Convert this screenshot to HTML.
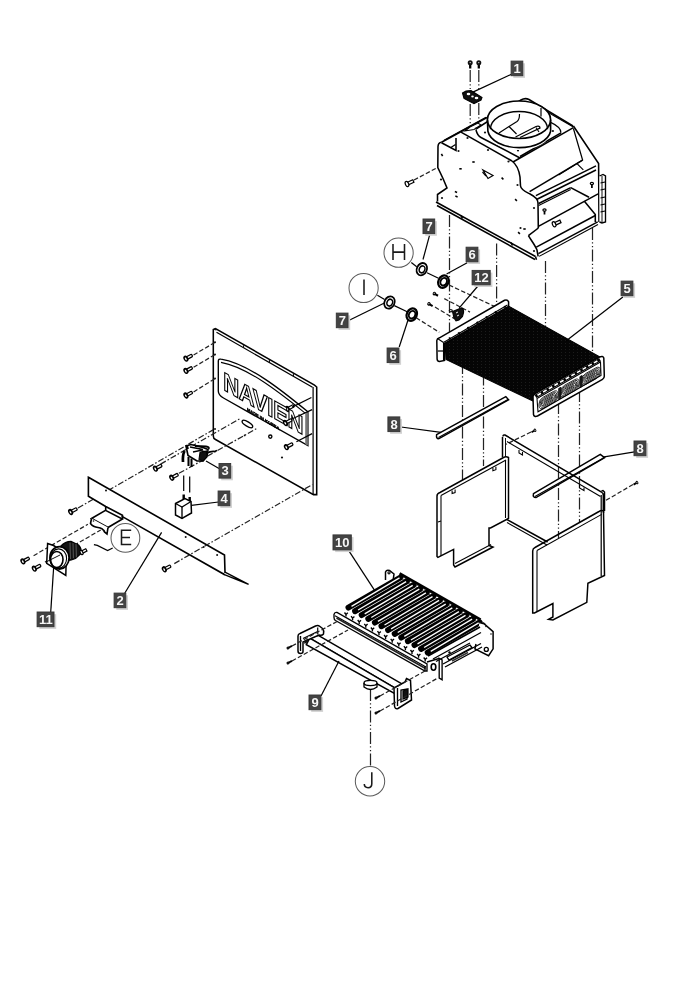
<!DOCTYPE html>
<html><head><meta charset="utf-8"><style>
html,body{margin:0;padding:0;background:#fff;}
svg{display:block;font-family:"Liberation Sans",sans-serif;filter:grayscale(1);}
</style></head><body>
<svg width="700" height="990" viewBox="0 0 700 990">
<rect width="700" height="990" fill="#fff"/>
<path d="M470.2,64 L470.2,68.5" fill="none" stroke="#000" stroke-width="2.29" />
<circle cx="470.2" cy="62.8" r="2.5" fill="#111"/>
<circle cx="470.2" cy="62.6" r="0.6" fill="#fff"/>
<path d="M470.2,70.0 L470.2,89.0" stroke="#222" stroke-width="1.22" stroke-dasharray="12 2.3 1.3 2.3 1.3 2.3" fill="none"/>
<path d="M478.8,64 L478.8,68.5" fill="none" stroke="#000" stroke-width="2.29" />
<circle cx="478.8" cy="62.8" r="2.5" fill="#111"/>
<circle cx="478.8" cy="62.6" r="0.6" fill="#fff"/>
<path d="M478.8,70.0 L478.8,89.0" stroke="#222" stroke-width="1.22" stroke-dasharray="12 2.3 1.3 2.3 1.3 2.3" fill="none"/>
<path d="M470.2,104.0 L470.2,128.0" stroke="#222" stroke-width="1.22" stroke-dasharray="12 2.3 1.3 2.3 1.3 2.3" fill="none"/>
<path d="M478.8,103.0 L478.8,119.0" stroke="#222" stroke-width="1.22" stroke-dasharray="12 2.3 1.3 2.3 1.3 2.3" fill="none"/>
<path d="M462.5,93 L466,91 L471,90.5 L482,97.5 L481,100 L474,103.6 L464,98.5 Z" fill="#111" stroke="#000" stroke-width="1.08" />
<ellipse cx="468.5" cy="94" rx="1.8" ry="1.2" fill="#fff"/>
<ellipse cx="476.5" cy="98" rx="1.8" ry="1.2" fill="#fff"/>
<ellipse cx="472.5" cy="96.5" rx="1.3" ry="0.9" fill="#fff"/>
<path d="M472.9,92.1 L511.4,74.3" fill="none" stroke="#000" stroke-width="1.22" />
<path d="M437.5,201.5 L437.5,194.5 L447,188 L443,178.5 L437.8,167.5 L438,146.5 Q438.2,142.8 441.5,142.3" fill="none" stroke="#000" stroke-width="1.55" />
<path d="M441.5,142.3 L487.0,117.5" fill="none" stroke="#000" stroke-width="1.55" />
<path d="M444.0,140.2 L486.0,117.2" fill="none" stroke="#000" stroke-width="1.08" />
<path d="M465,131 L470,127 L478,123 L481,125 L474,129.5 Z" fill="#fff" stroke="#000" stroke-width="1.08" />
<path d="M461.0,132.2 L512.0,161.0" fill="none" stroke="#000" stroke-width="1.55" />
<path d="M512,161 C516,164 519,170 520,177 L520.5,186 C521,190 526,192 530,194 C534,196 538,199 538,203 L538.3,228" fill="none" stroke="#000" stroke-width="1.55" />
<path d="M441.5,142.8 L456.0,150.5 L456.0,138.0" fill="none" stroke="#000" stroke-width="1.55" />
<path d="M450.5,147.8 L455.5,144.6" fill="none" stroke="#000" stroke-width="1.22" />
<path d="M436.0,202.0 L535.5,256.5" fill="none" stroke="#000" stroke-width="1.55" />
<path d="M437.0,205.5 L535.0,259.5" fill="none" stroke="#000" stroke-width="1.55" />
<path d="M535.5,256.5 L536.5,259.8" fill="none" stroke="#000" stroke-width="1.55" />
<path d="M461.0,215.5 L462.5,218.5" fill="none" stroke="#000" stroke-width="1.62" />
<path d="M511.0,242.5 L512.5,245.5" fill="none" stroke="#000" stroke-width="1.62" />
<path d="M476,129 L521,100 Q525,97.5 529,99.5 L573,126" fill="none" stroke="#000" stroke-width="1.55" />
<path d="M476,130 C477,134 478,136 481,137.5 L520,158" fill="none" stroke="#000" stroke-width="1.55" />
<path d="M513.0,162.0 L573.4,127.6" fill="none" stroke="#000" stroke-width="1.55" />
<path d="M520.0,156.5 L561.0,132.8" fill="none" stroke="#000" stroke-width="1.55" />
<path d="M550.6,122.4 Q560.9,127 560.9,132.7" fill="none" stroke="#000" stroke-width="1.22" />
<path d="M530.0,102.0 L573.4,127.0" fill="none" stroke="#000" stroke-width="1.08" />
<path d="M573.4,126.0 L598.6,163.6 L599.0,222.0" fill="none" stroke="#000" stroke-width="1.55" />
<path d="M573.4,128.5 L582.6,160.1 L558.6,175.0" fill="none" stroke="#000" stroke-width="1.22" />
<path d="M529.6,191.6 L582.6,160.1" fill="none" stroke="#000" stroke-width="1.55" />
<path d="M535.9,195.6 L596.0,165.9" fill="none" stroke="#000" stroke-width="1.55" />
<path d="M537.0,199.2 L596.0,170.0" fill="none" stroke="#000" stroke-width="1.55" />
<path d="M538.7,203.5 L570.7,187.6" fill="none" stroke="#000" stroke-width="1.55" />
<path d="M538.7,205.6 L570.7,189.6" fill="none" stroke="#000" stroke-width="1.08" />
<path d="M570.7,187.6 L589.0,197.3" fill="none" stroke="#000" stroke-width="1.55" />
<path d="M577.0,163.6 L583.3,169.9" fill="none" stroke="#000" stroke-width="1.22" />
<path d="M538.4,226.4 L598.1,193.9" fill="none" stroke="#000" stroke-width="1.55" />
<path d="M528.4,235.7 L538.4,228.0" fill="none" stroke="#000" stroke-width="1.55" />
<path d="M528.4,235.7 C531,240 535,245 537,250 L538.1,256.4" fill="none" stroke="#000" stroke-width="1.55" />
<path d="M536.3,247.1 L595.3,215.5" fill="none" stroke="#000" stroke-width="1.55" />
<path d="M538.4,253.6 L597.7,221.9" fill="none" stroke="#000" stroke-width="1.55" />
<path d="M539.1,256.4 L598.0,224.5" fill="none" stroke="#000" stroke-width="1.08" />
<path d="M584.4,201.2 L595.3,214.6 L595.3,222.0" fill="none" stroke="#000" stroke-width="1.55" />
<path d="M599.5,176 L603,174.5 L605.5,176 L605.5,222 L602,223 L599.5,222" fill="#fff" stroke="#000" stroke-width="1.35" />
<path d="M600.5,183.0 L605.0,182.0" fill="none" stroke="#000" stroke-width="1.08" />
<path d="M600.5,190.0 L605.0,189.0" fill="none" stroke="#000" stroke-width="1.08" />
<path d="M600.5,198.0 L605.0,197.0" fill="none" stroke="#000" stroke-width="1.08" />
<path d="M600.5,205.0 L605.0,204.0" fill="none" stroke="#000" stroke-width="1.08" />
<path d="M600.5,212.0 L605.0,211.0" fill="none" stroke="#000" stroke-width="1.08" />
<path d="M602.0,176.0 L602.0,222.0" fill="none" stroke="#000" stroke-width="0.94" />
<ellipse cx="544.5" cy="210" rx="1.6" ry="1.2" fill="#fff" stroke="#000" stroke-width="1.22"/>
<path d="M544.5,211.0 L544.5,214.5" fill="none" stroke="#000" stroke-width="1.76" />
<ellipse cx="591.9" cy="183.5" rx="1.6" ry="1.2" fill="#fff" stroke="#000" stroke-width="1.22"/>
<path d="M591.9,184.5 L591.9,188.0" fill="none" stroke="#000" stroke-width="1.76" />
<g transform="translate(554.1,224.3) rotate(-25)"><rect x="0" y="-1.4" width="7" height="2.8" fill="#fff" stroke="#000" stroke-width="1.22"/><ellipse cx="0" cy="0" rx="1.6" ry="2.7" fill="#fff" stroke="#000" stroke-width="1.22"/></g>
<path d="M483,170 L493,175.5 L488,178.5 Z" fill="none" stroke="#000" stroke-width="1.22" />
<path d="M482.5,172.0 L486.0,176.0" fill="none" stroke="#000" stroke-width="1.22" />
<circle cx="467.5" cy="138" r="1.1" fill="#111"/>
<circle cx="458.5" cy="151" r="1.1" fill="#111"/>
<circle cx="488" cy="150" r="1.1" fill="#111"/>
<circle cx="508.5" cy="161.5" r="1.1" fill="#111"/>
<circle cx="517.5" cy="185" r="1.1" fill="#111"/>
<circle cx="442" cy="198" r="1.1" fill="#111"/>
<circle cx="534" cy="208" r="1.1" fill="#111"/>
<circle cx="534" cy="251" r="1.1" fill="#111"/>
<circle cx="520.5" cy="228" r="1.1" fill="#111"/>
<circle cx="441" cy="179.5" r="1.1" fill="#111"/>
<circle cx="476" cy="128.5" r="1.1" fill="#111"/>
<circle cx="485" cy="132.5" r="1.1" fill="#111"/>
<circle cx="552.9" cy="131" r="1.1" fill="#111"/>
<circle cx="518" cy="150.5" r="1.1" fill="#111"/>
<path d="M440.8,155 L443.2,155" transform="rotate(60 442 155)" stroke="#000" stroke-width="1.62"/>
<path d="M472.3,162 L474.7,162" transform="rotate(0 473.5 162)" stroke="#000" stroke-width="1.62"/>
<path d="M459.3,168.8 L461.7,168.8" transform="rotate(0 460.5 168.8)" stroke="#000" stroke-width="1.62"/>
<path d="M501.3,178.5 L503.7,178.5" transform="rotate(40 502.5 178.5)" stroke="#000" stroke-width="1.62"/>
<path d="M454.8,192 L457.2,192" transform="rotate(20 456 192)" stroke="#000" stroke-width="1.62"/>
<path d="M455.3,196.5 L457.7,196.5" transform="rotate(20 456.5 196.5)" stroke="#000" stroke-width="1.62"/>
<path d="M514.8,200 L517.2,200" transform="rotate(40 516 200)" stroke="#000" stroke-width="1.62"/>
<path d="M517.8,233 L520.2,233" transform="rotate(40 519 233)" stroke="#000" stroke-width="1.62"/>
<path d="M523.3,229 L525.7,229" transform="rotate(0 524.5 229)" stroke="#000" stroke-width="1.62"/>
<g transform="translate(407,184) rotate(-25)"><rect x="0" y="-1.4" width="7" height="2.8" fill="#fff" stroke="#000" stroke-width="1.22"/><ellipse cx="0" cy="0" rx="1.6" ry="2.7" fill="#fff" stroke="#000" stroke-width="1.22"/></g>
<path d="M414.0,180.0 L437.5,167.5" stroke="#222" stroke-width="1.22" stroke-dasharray="4.5 2.2" fill="none"/>
<path d="M487.4,119.75 A31.6,18.75 0 0 0 550.6,119.75 L550.6,131.25 A31.6,18.75 0 0 1 487.4,131.25 Z" fill="#fff" stroke="none"/>
<ellipse cx="519" cy="119.75" rx="31.6" ry="18.75" fill="#fff" stroke="#000" stroke-width="1.62"/>
<path d="M490.4,129.25 A28.6,17.75 0 0 1 547.6,129.25" fill="none" stroke="#000" stroke-width="1.49"/>
<path d="M487.4,119.75 L487.9,131.25 A31.6,18.75 0 0 0 550.6,131.25 L550.6,119.75" fill="none" stroke="#000" stroke-width="1.62"/>
<path d="M541.0,108.0 L541.0,116.5" fill="none" stroke="#000" stroke-width="1.22" />
<path d="M519.5,114 C519.5,118 518.5,120.5 517,121.5 L509,126.5 L499,133" fill="none" stroke="#000" stroke-width="1.22" />
<path d="M509,126.5 L516.5,134" fill="none" stroke="#000" stroke-width="1.22" />
<path d="M515.5,137 L536,126.5 Q540,125.5 540,128 L520,137.5" fill="none" stroke="#000" stroke-width="1.22" />
<path d="M536.0,127.5 L539.0,132.0" fill="none" stroke="#000" stroke-width="1.08" />
<path d="M449.5,215.0 L449.5,336.0" stroke="#222" stroke-width="1.22" stroke-dasharray="12 2.3 1.3 2.3 1.3 2.3" fill="none"/>
<path d="M496.6,243.5 L496.6,302.0" stroke="#222" stroke-width="1.22" stroke-dasharray="12 2.3 1.3 2.3 1.3 2.3" fill="none"/>
<path d="M545.5,261.0 L545.5,330.0" stroke="#222" stroke-width="1.22" stroke-dasharray="12 2.3 1.3 2.3 1.3 2.3" fill="none"/>
<path d="M592.5,228.0 L592.5,357.0" stroke="#222" stroke-width="1.22" stroke-dasharray="12 2.3 1.3 2.3 1.3 2.3" fill="none"/>
<path d="M462.5,362.0 L462.5,480.0" stroke="#222" stroke-width="1.22" stroke-dasharray="12 2.3 1.3 2.3 1.3 2.3" fill="none"/>
<path d="M483.5,352.0 L483.5,466.0" stroke="#222" stroke-width="1.22" stroke-dasharray="12 2.3 1.3 2.3 1.3 2.3" fill="none"/>
<path d="M558.5,402.0 L558.5,538.0" stroke="#222" stroke-width="1.22" stroke-dasharray="12 2.3 1.3 2.3 1.3 2.3" fill="none"/>
<path d="M579.5,390.0 L579.5,522.0" stroke="#222" stroke-width="1.22" stroke-dasharray="12 2.3 1.3 2.3 1.3 2.3" fill="none"/>
<path d="M370.5,689.0 L370.5,767.0" stroke="#222" stroke-width="1.22" stroke-dasharray="12 2.3 1.3 2.3 1.3 2.3" fill="none"/>
<path d="M411.3,262.6 L416.7,266.8" fill="none" stroke="#000" stroke-width="1.22" />
<g transform="translate(421.8,269.2) rotate(25)"><ellipse cx="0" cy="0" rx="5.0" ry="6.4" fill="#fff" stroke="#000" stroke-width="1.76"/><ellipse cx="0.3" cy="0" rx="2.75" ry="3.5200000000000005" fill="#fff" stroke="#000" stroke-width="1.58"/></g>
<path d="M427.0,272.8 L438.5,278.2" fill="none" stroke="#000" stroke-width="1.22" />
<g transform="translate(443.4,281.6) rotate(25)"><ellipse cx="0" cy="0" rx="5.0" ry="6.4" fill="#fff" stroke="#000" stroke-width="2.16"/><ellipse cx="0.3" cy="0" rx="3.1" ry="3.968" fill="#fff" stroke="#000" stroke-width="1.94"/></g>
<path d="M449.0,285.0 L500.0,309.0" stroke="#222" stroke-width="1.22" stroke-dasharray="4.5 2.2" fill="none"/>
<path d="M429.6,235.2 L423.0,259.5" fill="none" stroke="#000" stroke-width="1.22" />
<path d="M467.2,262.7 L446.6,274.0" fill="none" stroke="#000" stroke-width="1.22" />
<path d="M377.4,295.2 L384.6,299.6" fill="none" stroke="#000" stroke-width="1.22" />
<g transform="translate(389.5,302.5) rotate(25)"><ellipse cx="0" cy="0" rx="5.0" ry="6.4" fill="#fff" stroke="#000" stroke-width="1.76"/><ellipse cx="0.3" cy="0" rx="2.75" ry="3.5200000000000005" fill="#fff" stroke="#000" stroke-width="1.58"/></g>
<path d="M394.3,305.6 L407.2,311.7" fill="none" stroke="#000" stroke-width="1.22" />
<g transform="translate(411.8,314.6) rotate(25)"><ellipse cx="0" cy="0" rx="5.0" ry="6.4" fill="#fff" stroke="#000" stroke-width="2.16"/><ellipse cx="0.3" cy="0" rx="3.1" ry="3.968" fill="#fff" stroke="#000" stroke-width="1.94"/></g>
<path d="M416.2,317.8 L439.3,332.3" stroke="#222" stroke-width="1.22" stroke-dasharray="4.5 2.2" fill="none"/>
<path d="M348.2,320.7 L383.9,303.2" fill="none" stroke="#000" stroke-width="1.22" />
<path d="M399.2,347.0 L408.2,319.5" fill="none" stroke="#000" stroke-width="1.22" />
<g transform="translate(434.3,293.6) rotate(30)"><path d="M0,0 L4.3,0" stroke="#000" stroke-width="2.03"/><ellipse cx="0" cy="0" rx="1.6" ry="1.9" fill="#000"/><ellipse cx="-0.2" cy="-0.2" rx="0.5" ry="0.7" fill="#fff"/></g>
<g transform="translate(428.9,303.9) rotate(30)"><path d="M0,0 L4.3,0" stroke="#000" stroke-width="2.03"/><ellipse cx="0" cy="0" rx="1.6" ry="1.9" fill="#000"/><ellipse cx="-0.2" cy="-0.2" rx="0.5" ry="0.7" fill="#fff"/></g>
<path d="M444.3,298.6 L470.0,312.1" stroke="#222" stroke-width="1.22" stroke-dasharray="4.5 2.2" fill="none"/>
<path d="M435.0,307.1 L454.3,318.6" stroke="#222" stroke-width="1.22" stroke-dasharray="4.5 2.2" fill="none"/>
<path d="M452.5,311.5 L457.5,309.5 L461.5,307.8 Q464,309 463.6,312.5 L462.5,316.5 L459,320 L456,320.8 L454,318 Z" fill="#111" stroke="#000" stroke-width="1.08" />
<ellipse cx="450.8" cy="310.8" rx="2.1" ry="1.7" fill="#111"/>
<ellipse cx="450.8" cy="310.6" rx="0.8" ry="0.6" fill="#fff"/>
<path d="M456,313 L458,312 M457,316 L459,315" stroke="#fff" stroke-width="0.94"/>
<path d="M477.5,286.5 L459.3,307.9" fill="none" stroke="#000" stroke-width="1.22" />
<defs><pattern id="fin" width="4" height="3" patternUnits="userSpaceOnUse"><rect width="4" height="3" fill="#050505"/><rect x="1" y="1" width="1" height="0.7" fill="#262626"/></pattern></defs>
<path d="M445,341 L508.5,306 L600,357 L536,396 L533,401 L446,359.5 Z" fill="url(#fin)" stroke="#000" stroke-width="1.08" />
<path d="M436.8,340.5 Q437,338.5 439.5,337.8 L504.5,300.3 Q507.5,299.3 508.6,301.9 L508.6,306.4 L444.6,343.5 L444.6,360.5 L439.5,361.5 Q437.1,361.3 437.1,359 Z" fill="#fff" stroke="#000" stroke-width="1.49" />
<path d="M437.5,338.6 L443.5,342.5" fill="none" stroke="#000" stroke-width="1.22" />
<path d="M443.5,342.5 L507.5,305.0" fill="none" stroke="#000" stroke-width="1.22" />
<path d="M443.5,342.5 L443.5,360.5" fill="none" stroke="#000" stroke-width="1.08" />
<path d="M449.0,338.8 L450.6,337.9" fill="none" stroke="#000" stroke-width="2.16" />
<path d="M458.2,333.6 L459.8,332.7" fill="none" stroke="#000" stroke-width="2.16" />
<path d="M467.4,328.3 L469.0,327.4" fill="none" stroke="#000" stroke-width="2.16" />
<path d="M476.6,323.1 L478.2,322.2" fill="none" stroke="#000" stroke-width="2.16" />
<path d="M485.8,317.8 L487.4,316.9" fill="none" stroke="#000" stroke-width="2.16" />
<path d="M495.0,312.6 L496.6,311.7" fill="none" stroke="#000" stroke-width="2.16" />
<path d="M504.2,307.3 L505.8,306.4" fill="none" stroke="#000" stroke-width="2.16" />
<path d="M437.8,351.0 L443.0,351.0" fill="none" stroke="#000" stroke-width="1.22" />
<path d="M533,396.5 Q533.3,394.3 536,393.2 L599.5,357 Q603,355.5 603.8,358 L604.3,376.3 Q604.3,378.3 602.5,379.3 L537.5,416 Q534,417.3 533.5,414.5 Z" fill="#fff" stroke="#000" stroke-width="1.49" />
<path d="M537,398.5 L600.5,362 L601,375.5 L538,411.8 Z" fill="#fff" stroke="#000" stroke-width="1.08" />
<path d="M535.5,396.5 L600,359.5" stroke="#000" stroke-width="3.51"/>
<path d="M537.5,395.2 L599,360" stroke="#fff" stroke-width="1.62" stroke-dasharray="4 2.5"/>
<g transform="matrix(1,-0.556,0,1,539.0,399.5)"><rect x="0.00" y="0.00" width="19.00" height="11.00" rx="4.50" fill="none" stroke="#000" stroke-width="0.74"/><rect x="1.25" y="1.25" width="16.50" height="8.50" rx="3.25" fill="none" stroke="#000" stroke-width="0.74"/><rect x="2.50" y="2.50" width="14.00" height="6.00" rx="2.00" fill="none" stroke="#000" stroke-width="0.74"/><rect x="3.75" y="3.75" width="11.50" height="3.50" rx="0.75" fill="none" stroke="#000" stroke-width="0.74"/><rect x="5.00" y="5.00" width="9.00" height="1.00" rx="0.50" fill="none" stroke="#000" stroke-width="0.74"/></g>
<g transform="matrix(1,-0.556,0,1,560.2,387.7)"><rect x="0.00" y="0.00" width="19.00" height="11.00" rx="4.50" fill="none" stroke="#000" stroke-width="0.74"/><rect x="1.25" y="1.25" width="16.50" height="8.50" rx="3.25" fill="none" stroke="#000" stroke-width="0.74"/><rect x="2.50" y="2.50" width="14.00" height="6.00" rx="2.00" fill="none" stroke="#000" stroke-width="0.74"/><rect x="3.75" y="3.75" width="11.50" height="3.50" rx="0.75" fill="none" stroke="#000" stroke-width="0.74"/><rect x="5.00" y="5.00" width="9.00" height="1.00" rx="0.50" fill="none" stroke="#000" stroke-width="0.74"/></g>
<g transform="matrix(1,-0.556,0,1,581.4,375.9)"><rect x="0.00" y="0.00" width="19.00" height="11.00" rx="4.50" fill="none" stroke="#000" stroke-width="0.74"/><rect x="1.25" y="1.25" width="16.50" height="8.50" rx="3.25" fill="none" stroke="#000" stroke-width="0.74"/><rect x="2.50" y="2.50" width="14.00" height="6.00" rx="2.00" fill="none" stroke="#000" stroke-width="0.74"/><rect x="3.75" y="3.75" width="11.50" height="3.50" rx="0.75" fill="none" stroke="#000" stroke-width="0.74"/><rect x="5.00" y="5.00" width="9.00" height="1.00" rx="0.50" fill="none" stroke="#000" stroke-width="0.74"/></g>
<path d="M558.7,388.5 l0,11 l2.2,-1.2 l0,-11 z" fill="#222" stroke="#000" stroke-width="0.81"/>
<path d="M579.9,376.7 l0,11 l2.2,-1.2 l0,-11 z" fill="#222" stroke="#000" stroke-width="0.81"/>
<path d="M566.0,341.0 L622.9,297.1" fill="none" stroke="#000" stroke-width="1.22" />
<path d="M436.6,434.6 L505.8,396.6 L508.6,399.8 L439,438.6 Q436,439 436.6,434.6 Z" fill="#fff" stroke="#000" stroke-width="1.49" />
<path d="M438.5,437.5 L508.0,399.5" fill="none" stroke="#000" stroke-width="1.22" />
<path d="M401.0,427.0 L441.0,432.4" fill="none" stroke="#000" stroke-width="1.22" />
<path d="M533.5,493.6 L600.3,454.3 L604.6,457.6 L536,497.6 Q532.5,497.5 533.5,493.6 Z" fill="#fff" stroke="#000" stroke-width="1.49" />
<path d="M535.0,496.5 L604.0,457.8" fill="none" stroke="#000" stroke-width="1.22" />
<path d="M602.7,457.1 L634.6,451.8" fill="none" stroke="#000" stroke-width="1.22" />
<g transform="translate(535,430.3) rotate(150)"><path d="M0,0 L4,0" stroke="#000" stroke-width="1.89"/><ellipse cx="0" cy="0" rx="1.3" ry="1.8" fill="#111"/><ellipse cx="0" cy="0" rx="0.45" ry="0.6" fill="#fff"/></g>
<g transform="translate(637,482.6) rotate(150)"><path d="M0,0 L4,0" stroke="#000" stroke-width="1.89"/><ellipse cx="0" cy="0" rx="1.3" ry="1.8" fill="#111"/><ellipse cx="0" cy="0" rx="0.45" ry="0.6" fill="#fff"/></g>
<path d="M531.0,432.0 L506.0,444.3" stroke="#222" stroke-width="1.22" stroke-dasharray="4.5 2.2" fill="none"/>
<path d="M633.0,484.5 L605.0,500.9" stroke="#222" stroke-width="1.22" stroke-dasharray="4.5 2.2" fill="none"/>
<path d="M503,436.5 Q503,434.5 505,435 L601.5,492 Q603.5,493.5 603.5,495.5 L603.5,513" fill="none" stroke="#000" stroke-width="1.49" />
<path d="M507.0,441.5 L600.5,496.5" fill="none" stroke="#000" stroke-width="1.08" />
<path d="M502.5,437.0 L502.5,457.0" fill="none" stroke="#000" stroke-width="1.49" />
<path d="M505.5,438.0 L505.5,457.0" fill="none" stroke="#000" stroke-width="0.94" />
<path d="M507.0,519.6 L547.6,542.0" fill="none" stroke="#000" stroke-width="1.49" />
<path d="M507.0,522.5 L547.0,545.0" fill="none" stroke="#000" stroke-width="1.08" />
<path d="M437,556.5 L437,496 Q437,493.5 440,492.5 L503.5,457.5 Q506,456 508.5,457.5 L508.5,518.5 L490.5,528 L489,528 L489,545.5 L493,547 L455,567 L453.6,565 L453.6,549.4 L437.9,557.3 Z" fill="none" stroke="#000" stroke-width="1.49" />
<path d="M441.0,495.5 L441.0,556.0" fill="none" stroke="#000" stroke-width="1.08" />
<path d="M441.0,495.5 L506.0,460.0" fill="none" stroke="#000" stroke-width="1.08" />
<path d="M505.5,460.0 L505.5,518.0" fill="none" stroke="#000" stroke-width="1.08" />
<path d="M455.0,563.5 L491.0,544.5" fill="none" stroke="#000" stroke-width="1.08" />
<path d="M452.1,490.5 L452.1,493.5 L455.1,492.5 L455.1,489.5" fill="none" stroke="#000" stroke-width="1.08" />
<path d="M492.9,467.7 L492.9,470.7 L495.9,469.7 L495.9,466.7" fill="none" stroke="#000" stroke-width="1.08" />
<path d="M519,450 L519,453 L522.5,455 L522.5,452" fill="none" stroke="#000" stroke-width="1.08" />
<path d="M579.5,485 L579.5,488 L584,490.5 L584,487.5" fill="none" stroke="#000" stroke-width="1.08" />
<path d="M438.0,522.0 L441.0,521.0" fill="none" stroke="#000" stroke-width="1.08" />
<path d="M532.7,613 L532.7,551 Q532.7,548.5 535,547.5 L599,511.5 Q601.5,510 603.5,511 L604.5,575.5 L587.9,583.3 L586.8,602.4 L552.9,620 L548.6,619.4 L552.9,617 L552.9,603.5 L534.5,613 Z" fill="none" stroke="#000" stroke-width="1.49" />
<path d="M537.0,550.5 L537.0,612.0" fill="none" stroke="#000" stroke-width="1.08" />
<path d="M537.0,550.5 L601.7,514.4" fill="none" stroke="#000" stroke-width="1.08" />
<path d="M601.2,495.0 L601.2,576.0" fill="none" stroke="#000" stroke-width="1.22" />
<path d="M603.5,493.5 L603.5,511.0" fill="none" stroke="#000" stroke-width="1.49" />
<path d="M601.5,491 L603,490.5 L604.5,492 L604.5,511" fill="none" stroke="#000" stroke-width="1.49" />
<path d="M213.3,329.5 L213.3,436 Q213.3,438.5 215.5,439.5 L313.5,494.6 L316.7,494.6 L316.7,387 L314.5,385.2 L215.5,328.5 Z" fill="#fff" stroke="#000" stroke-width="1.55" />
<path d="M213,329.8 L215.5,328 L216.5,330.5 Z" fill="#111"/>
<path d="M216.5,332.3 L312.5,387.2" fill="none" stroke="#000" stroke-width="1.22" />
<path d="M313.1,387.0 L313.1,494.4" fill="none" stroke="#000" stroke-width="1.22" />
<path d="M243.4,345.2 L243.7,347.7" fill="none" stroke="#000" stroke-width="0.94" />
<path d="M269.3,360.0 L269.6,362.5" fill="none" stroke="#000" stroke-width="0.94" />
<path d="M293.3,373.7 L293.6,376.2" fill="none" stroke="#000" stroke-width="0.94" />
<g transform="translate(287.5,409) rotate(-28)"><rect x="0" y="-1.3" width="7" height="2.6" rx="0.8" fill="#fff" stroke="#000" stroke-width="1.22"/><ellipse cx="0" cy="0" rx="1.6" ry="2.6" fill="#111" stroke="#000" stroke-width="1.35"/><ellipse cx="-0.2" cy="0.2" rx="0.72" ry="1.43" fill="#fff"/></g>
<path d="M292.1,407.1 L311.4,397.5" fill="none" stroke="#000" stroke-width="1.22" />
<path d="M218.3,361 Q218.3,358.6 221,359.2 C250,364 285,393 307.9,411.8 L307.9,445.7 L223.5,398 Q218.3,395 218.3,391 Z" fill="none" stroke="#000" stroke-width="1.35" />
<path d="M221,362.4 C249,367.5 283,395.5 305.3,413.2" fill="none" stroke="#000" stroke-width="1.08" />
<path d="M305.2,413.5 L307.9,412.5 L307.9,445.5 L305.2,444.2 Z" fill="#777"/>
<text x="0" y="0" transform="matrix(0.96,0.545,0,1.12,223.2,389.5)" font-size="23" font-weight="bold" fill="#fff" stroke="#000" stroke-width="1.15" letter-spacing="-0.3">NAVIEN</text>
<text x="0" y="0" transform="matrix(1,0.61,0,1,247,410.5)" font-size="4.0" font-weight="bold" fill="#000" stroke="#000" stroke-width="0.41">MADE IN KOREA</text>
<ellipse cx="247.4" cy="424" rx="6" ry="2.2" transform="rotate(31 247.4 424)" fill="#fff" stroke="#000" stroke-width="1.35"/>
<circle cx="270.3" cy="436.6" r="1.6" fill="#fff" stroke="#000" stroke-width="1.35"/>
<circle cx="282" cy="457.5" r="1.1" fill="#111"/>
<circle cx="244.6" cy="435.4" r="0.9" fill="#111"/>
<g transform="translate(185.9,358.6) rotate(-28)"><rect x="0" y="-1.3" width="7" height="2.6" rx="0.8" fill="#fff" stroke="#000" stroke-width="1.22"/><ellipse cx="0" cy="0" rx="1.6" ry="2.6" fill="#111" stroke="#000" stroke-width="1.35"/><ellipse cx="-0.2" cy="0.2" rx="0.72" ry="1.43" fill="#fff"/></g>
<g transform="translate(185.9,370.9) rotate(-28)"><rect x="0" y="-1.3" width="7" height="2.6" rx="0.8" fill="#fff" stroke="#000" stroke-width="1.22"/><ellipse cx="0" cy="0" rx="1.6" ry="2.6" fill="#111" stroke="#000" stroke-width="1.35"/><ellipse cx="-0.2" cy="0.2" rx="0.72" ry="1.43" fill="#fff"/></g>
<g transform="translate(185.9,395.5) rotate(-28)"><rect x="0" y="-1.3" width="7" height="2.6" rx="0.8" fill="#fff" stroke="#000" stroke-width="1.22"/><ellipse cx="0" cy="0" rx="1.6" ry="2.6" fill="#111" stroke="#000" stroke-width="1.35"/><ellipse cx="-0.2" cy="0.2" rx="0.72" ry="1.43" fill="#fff"/></g>
<path d="M193.6,355.0 L215.0,342.3" stroke="#222" stroke-width="1.22" stroke-dasharray="4.5 2.2" fill="none"/>
<path d="M193.6,367.3 L215.0,354.5" stroke="#222" stroke-width="1.22" stroke-dasharray="4.5 2.2" fill="none"/>
<path d="M193.6,391.9 L215.0,378.6" stroke="#222" stroke-width="1.22" stroke-dasharray="4.5 2.2" fill="none"/>
<circle cx="215" cy="342.3" r="1.0" fill="#111"/>
<circle cx="215" cy="354.5" r="1.0" fill="#111"/>
<circle cx="215" cy="378.6" r="1.0" fill="#111"/>
<circle cx="215" cy="429" r="1.0" fill="#111"/>
<g transform="translate(285.4,423) rotate(-28)"><rect x="0" y="-1.3" width="7" height="2.6" rx="0.8" fill="#fff" stroke="#000" stroke-width="1.22"/><ellipse cx="0" cy="0" rx="1.6" ry="2.6" fill="#111" stroke="#000" stroke-width="1.35"/><ellipse cx="-0.2" cy="0.2" rx="0.72" ry="1.43" fill="#fff"/></g>
<g transform="translate(286.4,447.1) rotate(-28)"><rect x="0" y="-1.3" width="7" height="2.6" rx="0.8" fill="#fff" stroke="#000" stroke-width="1.22"/><ellipse cx="0" cy="0" rx="1.6" ry="2.6" fill="#111" stroke="#000" stroke-width="1.35"/><ellipse cx="-0.2" cy="0.2" rx="0.72" ry="1.43" fill="#fff"/></g>
<path d="M291.4,419.3 L312.1,409.6" fill="none" stroke="#000" stroke-width="1.22" />
<path d="M296.4,441.8 L312.1,433.6" fill="none" stroke="#000" stroke-width="1.22" />
<path d="M78.0,508.0 L213.1,429.9" stroke="#222" stroke-width="1.22" stroke-dasharray="6 2 1.6 2" fill="none"/>
<path d="M160.6,464.1 L240.6,418.3" stroke="#222" stroke-width="1.22" stroke-dasharray="6 2 1.6 2" fill="none"/>
<path d="M178.9,473.3 L204.0,459.6" stroke="#222" stroke-width="1.22" stroke-dasharray="6 2 1.6 2" fill="none"/>
<path d="M207.4,456.1 L256.6,428.6" stroke="#222" stroke-width="1.22" stroke-dasharray="6 2 1.6 2" fill="none"/>
<path d="M186,446 L191,444.5 L203,447.5 L208,449.5 L207,456 L203,461 L197,461 L188,455.5 Z" fill="#fff" stroke="#000" stroke-width="1.62" />
<path d="M190,447 L203,449.5 M193,452 L200,450.5 L206,452" fill="none" stroke="#000" stroke-width="1.35" />
<path d="M200,452.5 L206.5,451 L207,457 L203,461 L199,459.5 Z" fill="#111" stroke="#000" stroke-width="1.08" />
<path d="M184.5,451 Q182.5,455 183,462" fill="none" stroke="#000" stroke-width="2.70" />
<path d="M188.5,457 L188.5,466 M191.5,458.5 L191.5,467" fill="none" stroke="#000" stroke-width="2.03" />
<path d="M187,445.5 L188,449 M195,446 L206,446.5 Q210,447 208.5,449" fill="none" stroke="#000" stroke-width="1.89" />
<path d="M206,453.5 Q211,451 214.5,451.5 L217,450.5" fill="none" stroke="#000" stroke-width="1.62" />
<path d="M206.0,461.0 L219.0,468.5" fill="none" stroke="#000" stroke-width="1.22" />
<g transform="translate(155.4,468.6) rotate(-28)"><rect x="0" y="-1.3" width="7" height="2.6" rx="0.8" fill="#fff" stroke="#000" stroke-width="1.22"/><ellipse cx="0" cy="0" rx="1.6" ry="2.6" fill="#111" stroke="#000" stroke-width="1.35"/><ellipse cx="-0.2" cy="0.2" rx="0.72" ry="1.43" fill="#fff"/></g>
<g transform="translate(171.7,477.7) rotate(-28)"><rect x="0" y="-1.3" width="7" height="2.6" rx="0.8" fill="#fff" stroke="#000" stroke-width="1.22"/><ellipse cx="0" cy="0" rx="1.6" ry="2.6" fill="#111" stroke="#000" stroke-width="1.35"/><ellipse cx="-0.2" cy="0.2" rx="0.72" ry="1.43" fill="#fff"/></g>
<path d="M183.7,475.5 L183.7,491.0" fill="none" stroke="#000" stroke-width="1.22" />
<path d="M189.7,476.5 L189.7,492.5" fill="none" stroke="#000" stroke-width="1.22" />
<path d="M175.5,503.5 L185,498.5 L191,501.5 L191.5,513 L182,518.5 L175.5,515 Z" fill="#fff" stroke="#000" stroke-width="1.49" />
<path d="M175.5,503.5 L182.0,507.0 L191.0,501.5" fill="none" stroke="#000" stroke-width="1.35" />
<path d="M182.0,507.0 L182.0,518.5" fill="none" stroke="#000" stroke-width="1.35" />
<path d="M183.7,499 L183.7,494.5 M189.7,501 L189.7,497" fill="none" stroke="#000" stroke-width="2.43" />
<path d="M191.4,505.4 L218.5,502.0" fill="none" stroke="#000" stroke-width="1.22" />
<path d="M88.4,477.3 L224.5,555 L225,572.5 L224,574.3 L122.4,516.6 L122.4,515.2 L105.7,506.5 L88.4,496.3 Z" fill="#fff" stroke="#000" stroke-width="1.62" />
<path d="M225,572.2 L248.6,584.3 L223.8,574.3" fill="#fff" stroke="#000" stroke-width="1.35" />
<path d="M105.7,506.3 L105.7,510.0" fill="none" stroke="#000" stroke-width="1.62" />
<path d="M91.5,518.5 L105.5,510.3 L122.4,519 L108,527.5 Z" fill="#fff" stroke="#000" stroke-width="1.62" />
<path d="M91.5,518.5 L90.5,523.5 Q93,527 98,527.5 Q103,528 104.5,532 L107,534 L108,527.5" fill="#fff" stroke="#000" stroke-width="1.62" />
<path d="M122.4,519.0 L122.4,515.5" fill="none" stroke="#000" stroke-width="1.62" />
<circle cx="93.5" cy="521" r="0.8" fill="#111"/>
<circle cx="104" cy="530.5" r="0.8" fill="#111"/>
<circle cx="106" cy="490.5" r="1.0" fill="#111"/>
<circle cx="185.7" cy="537.1" r="1.0" fill="#111"/>
<circle cx="203.6" cy="547.1" r="1.0" fill="#111"/>
<circle cx="217.1" cy="555" r="1.0" fill="#111"/>
<path d="M124.4,593.7 L161.6,532.4" fill="none" stroke="#000" stroke-width="1.22" />
<g transform="translate(70.6,512) rotate(-28)"><rect x="0" y="-1.3" width="7" height="2.6" rx="0.8" fill="#fff" stroke="#000" stroke-width="1.22"/><ellipse cx="0" cy="0" rx="1.6" ry="2.6" fill="#111" stroke="#000" stroke-width="1.35"/><ellipse cx="-0.2" cy="0.2" rx="0.72" ry="1.43" fill="#fff"/></g>
<g transform="translate(22.9,561.4) rotate(-28)"><rect x="0" y="-1.3" width="7" height="2.6" rx="0.8" fill="#fff" stroke="#000" stroke-width="1.22"/><ellipse cx="0" cy="0" rx="1.6" ry="2.6" fill="#111" stroke="#000" stroke-width="1.35"/><ellipse cx="-0.2" cy="0.2" rx="0.72" ry="1.43" fill="#fff"/></g>
<g transform="translate(34.3,568.6) rotate(-28)"><rect x="0" y="-1.3" width="7" height="2.6" rx="0.8" fill="#fff" stroke="#000" stroke-width="1.22"/><ellipse cx="0" cy="0" rx="1.6" ry="2.6" fill="#111" stroke="#000" stroke-width="1.35"/><ellipse cx="-0.2" cy="0.2" rx="0.72" ry="1.43" fill="#fff"/></g>
<g transform="translate(164.3,569.3) rotate(-28)"><rect x="0" y="-1.3" width="7" height="2.6" rx="0.8" fill="#fff" stroke="#000" stroke-width="1.22"/><ellipse cx="0" cy="0" rx="1.6" ry="2.6" fill="#111" stroke="#000" stroke-width="1.35"/><ellipse cx="-0.2" cy="0.2" rx="0.72" ry="1.43" fill="#fff"/></g>
<path d="M174.3,563.6 L312.4,484.5" stroke="#222" stroke-width="1.22" stroke-dasharray="6 2 1.6 2" fill="none"/>
<path d="M33.6,555.7 L87.9,524.3" stroke="#222" stroke-width="1.22" stroke-dasharray="4.5 2.2" fill="none"/>
<path d="M45.0,562.1 L100.7,530.0" stroke="#222" stroke-width="1.22" stroke-dasharray="4.5 2.2" fill="none"/>
<path d="M47.6,543.5 L53.5,545.5 L66.4,553.5 L65.8,575.4 L46.7,563.4 Z" fill="#fff" stroke="#000" stroke-width="1.49" />
<path d="M61,546 Q65,541.5 71,541.5 L78.5,545 Q82,549 81,553.5 L75.5,558.5 Q69,561.5 64,560 Z" fill="#111" stroke="#000" stroke-width="1.35" />
<path d="M70,542.5 L70.4,559.0" fill="none" stroke="#777" stroke-width="0.68" />
<path d="M73,543.1 L73.4,558.2" fill="none" stroke="#777" stroke-width="0.68" />
<path d="M76,543.7 L76.4,557.4" fill="none" stroke="#777" stroke-width="0.68" />
<ellipse cx="59.5" cy="557.8" rx="9.6" ry="11.2" fill="#fff" stroke="#000" stroke-width="1.76"/>
<ellipse cx="58.6" cy="558.5" rx="8" ry="9.6" fill="none" stroke="#000" stroke-width="1.08"/>
<ellipse cx="56.8" cy="559.5" rx="6.2" ry="8" fill="#fff" stroke="#000" stroke-width="1.62"/>
<path d="M46.0,562.0 L60.0,555.0" fill="none" stroke="#000" stroke-width="0.94" />
<g transform="translate(81.5,552.5) rotate(-28)"><rect x="0" y="-1.3" width="5.5" height="2.6" fill="#fff" stroke="#000" stroke-width="1.22"/><ellipse cx="0" cy="0" rx="1.3" ry="2.3" fill="#fff" stroke="#000" stroke-width="1.22"/></g>
<path d="M53.6,568.0 L50.7,612.5" fill="none" stroke="#000" stroke-width="1.22" />
<path d="M93.9,544.6 L97.3,545.4 L107.6,550.6 L112.7,548.0" fill="none" stroke="#000" stroke-width="1.22" />
<path d="M336,612 L386,573 L481,621 L442,662 Z" fill="#fff" stroke="none" stroke-width="1.08" />
<path d="M385.5,580 L385.5,572 Q386.5,569.5 389.5,570.5 L394,574 L393,581" fill="#fff" stroke="#000" stroke-width="1.49" />
<circle cx="389" cy="572.8" r="1.1" fill="#fff" stroke="#000" stroke-width="1.08"/>
<path d="M348.5,607.5 L400.5,577.5" stroke="#000" stroke-width="6.0" stroke-linecap="round"/>
<path d="M351.5,606.3 L399.5,577.9" stroke="#fff" stroke-width="1.35"/>
<path d="M403.7,577.3 l2.2,1.3 l-1.6,1.6 l-2,-1 z" fill="#fff" stroke="#000" stroke-width="0.68"/>
<path d="M344.5,612.5 L346.0,614.5 L347.8,612.8 M346.0,614.5 L346.0,616.5" fill="none" stroke="#000" stroke-width="1.35"/>
<path d="M355.1,611.2 L407.1,581.2" stroke="#000" stroke-width="6.0" stroke-linecap="round"/>
<path d="M358.1,610.0 L406.1,581.6" stroke="#fff" stroke-width="1.35"/>
<path d="M410.3,581.0 l2.2,1.3 l-1.6,1.6 l-2,-1 z" fill="#fff" stroke="#000" stroke-width="0.68"/>
<path d="M351.1,616.2 L352.6,618.2 L354.4,616.5 M352.6,618.2 L352.6,620.2" fill="none" stroke="#000" stroke-width="1.35"/>
<path d="M361.7,615.0 L413.7,585.0" stroke="#000" stroke-width="6.0" stroke-linecap="round"/>
<path d="M364.7,613.8 L412.7,585.4" stroke="#fff" stroke-width="1.35"/>
<path d="M416.9,584.8 l2.2,1.3 l-1.6,1.6 l-2,-1 z" fill="#fff" stroke="#000" stroke-width="0.68"/>
<path d="M357.7,620.0 L359.2,622.0 L361.0,620.3 M359.2,622.0 L359.2,624.0" fill="none" stroke="#000" stroke-width="1.35"/>
<path d="M368.3,618.8 L420.3,588.8" stroke="#000" stroke-width="6.0" stroke-linecap="round"/>
<path d="M371.3,617.5 L419.3,589.1" stroke="#fff" stroke-width="1.35"/>
<path d="M423.5,588.5 l2.2,1.3 l-1.6,1.6 l-2,-1 z" fill="#fff" stroke="#000" stroke-width="0.68"/>
<path d="M364.3,623.8 L365.8,625.8 L367.6,624.0 M365.8,625.8 L365.8,627.8" fill="none" stroke="#000" stroke-width="1.35"/>
<path d="M374.9,622.5 L426.9,592.5" stroke="#000" stroke-width="6.0" stroke-linecap="round"/>
<path d="M377.9,621.3 L425.9,592.9" stroke="#fff" stroke-width="1.35"/>
<path d="M430.1,592.3 l2.2,1.3 l-1.6,1.6 l-2,-1 z" fill="#fff" stroke="#000" stroke-width="0.68"/>
<path d="M370.9,627.5 L372.4,629.5 L374.2,627.8 M372.4,629.5 L372.4,631.5" fill="none" stroke="#000" stroke-width="1.35"/>
<path d="M381.5,626.2 L433.5,596.2" stroke="#000" stroke-width="6.0" stroke-linecap="round"/>
<path d="M384.5,625.0 L432.5,596.6" stroke="#fff" stroke-width="1.35"/>
<path d="M436.7,596.0 l2.2,1.3 l-1.6,1.6 l-2,-1 z" fill="#fff" stroke="#000" stroke-width="0.68"/>
<path d="M377.5,631.2 L379.0,633.2 L380.8,631.5 M379.0,633.2 L379.0,635.2" fill="none" stroke="#000" stroke-width="1.35"/>
<path d="M388.1,630.0 L440.1,600.0" stroke="#000" stroke-width="6.0" stroke-linecap="round"/>
<path d="M391.1,628.8 L439.1,600.4" stroke="#fff" stroke-width="1.35"/>
<path d="M443.3,599.8 l2.2,1.3 l-1.6,1.6 l-2,-1 z" fill="#fff" stroke="#000" stroke-width="0.68"/>
<path d="M384.1,635.0 L385.6,637.0 L387.4,635.3 M385.6,637.0 L385.6,639.0" fill="none" stroke="#000" stroke-width="1.35"/>
<path d="M394.7,633.8 L446.7,603.8" stroke="#000" stroke-width="6.0" stroke-linecap="round"/>
<path d="M397.7,632.5 L445.7,604.1" stroke="#fff" stroke-width="1.35"/>
<path d="M449.9,603.5 l2.2,1.3 l-1.6,1.6 l-2,-1 z" fill="#fff" stroke="#000" stroke-width="0.68"/>
<path d="M390.7,638.8 L392.2,640.8 L394.0,639.0 M392.2,640.8 L392.2,642.8" fill="none" stroke="#000" stroke-width="1.35"/>
<path d="M401.3,637.5 L453.3,607.5" stroke="#000" stroke-width="6.0" stroke-linecap="round"/>
<path d="M404.3,636.3 L452.3,607.9" stroke="#fff" stroke-width="1.35"/>
<path d="M456.5,607.3 l2.2,1.3 l-1.6,1.6 l-2,-1 z" fill="#fff" stroke="#000" stroke-width="0.68"/>
<path d="M397.3,642.5 L398.8,644.5 L400.6,642.8 M398.8,644.5 L398.8,646.5" fill="none" stroke="#000" stroke-width="1.35"/>
<path d="M407.9,641.2 L459.9,611.2" stroke="#000" stroke-width="6.0" stroke-linecap="round"/>
<path d="M410.9,640.0 L458.9,611.6" stroke="#fff" stroke-width="1.35"/>
<path d="M463.1,611.0 l2.2,1.3 l-1.6,1.6 l-2,-1 z" fill="#fff" stroke="#000" stroke-width="0.68"/>
<path d="M403.9,646.2 L405.4,648.2 L407.2,646.5 M405.4,648.2 L405.4,650.2" fill="none" stroke="#000" stroke-width="1.35"/>
<path d="M414.5,645.0 L466.5,615.0" stroke="#000" stroke-width="6.0" stroke-linecap="round"/>
<path d="M417.5,643.8 L465.5,615.4" stroke="#fff" stroke-width="1.35"/>
<path d="M469.7,614.8 l2.2,1.3 l-1.6,1.6 l-2,-1 z" fill="#fff" stroke="#000" stroke-width="0.68"/>
<path d="M410.5,650.0 L412.0,652.0 L413.8,650.3 M412.0,652.0 L412.0,654.0" fill="none" stroke="#000" stroke-width="1.35"/>
<path d="M421.1,648.8 L473.1,618.8" stroke="#000" stroke-width="6.0" stroke-linecap="round"/>
<path d="M424.1,647.5 L472.1,619.1" stroke="#fff" stroke-width="1.35"/>
<path d="M476.3,618.5 l2.2,1.3 l-1.6,1.6 l-2,-1 z" fill="#fff" stroke="#000" stroke-width="0.68"/>
<path d="M417.1,653.8 L418.6,655.8 L420.4,654.0 M418.6,655.8 L418.6,657.8" fill="none" stroke="#000" stroke-width="1.35"/>
<path d="M427.7,652.5 L479.7,622.5" stroke="#000" stroke-width="6.0" stroke-linecap="round"/>
<path d="M430.7,651.3 L478.7,622.9" stroke="#fff" stroke-width="1.35"/>
<path d="M482.9,622.3 l2.2,1.3 l-1.6,1.6 l-2,-1 z" fill="#fff" stroke="#000" stroke-width="0.68"/>
<path d="M423.7,657.5 L425.2,659.5 L427.0,657.8 M425.2,659.5 L425.2,661.5" fill="none" stroke="#000" stroke-width="1.35"/>
<path d="M399.6,573.4 L480.6,619.7" fill="none" stroke="#000" stroke-width="2.70" />
<path d="M334,614.5 Q334.5,612 337,612.5 L427,664 L427,671 L425,671 L335.5,620.5 Q334,619.5 334,617.5 Z" fill="#fff" stroke="#000" stroke-width="1.35" />
<path d="M335.0,615.8 L426.0,667.0" fill="none" stroke="#000" stroke-width="1.08" />
<path d="M336.5,618.0 L425.5,668.5" fill="none" stroke="#222" stroke-width="1.62" />
<path d="M479.4,622.6 L484,623.7 L493.1,631.7 L493.1,648.9 L488.6,655.7 L474.9,648.9 L476,644" fill="#fff" stroke="#000" stroke-width="1.49" />
<circle cx="486.3" cy="649.4" r="2" fill="#fff" stroke="#000" stroke-width="1.35"/>
<circle cx="486" cy="626.5" r="0.8" fill="#111"/>
<circle cx="491" cy="634" r="0.8" fill="#111"/>
<path d="M428,656 L480,627" fill="none" stroke="#000" stroke-width="1.62" />
<path d="M433,659 L481,632.5" fill="none" stroke="#000" stroke-width="1.35" />
<path d="M436,661.5 L470,643 M443,664 L481,643.5 M445,667 L482,647" fill="none" stroke="#000" stroke-width="1.35" />
<path d="M447,657 L470,645 L472,647.5 L449,660 Z" fill="#fff" stroke="#000" stroke-width="1.35"/>
<circle cx="449.5" cy="652.5" r="1.2" fill="#000"/>
<path d="M452,661 L468,652.5" fill="none" stroke="#333" stroke-width="1.62" />
<path d="M425,666 L425,670.5 M427,662 L439,658.5" fill="none" stroke="#000" stroke-width="1.35" />
<path d="M439.2,658.3 L442.1,660 L442.1,679.7 L439.2,678 Z" fill="#fff" stroke="#000" stroke-width="1.35" />
<ellipse cx="433.5" cy="667" rx="2.3" ry="3.2" fill="#fff" stroke="#000" stroke-width="1.62"/>
<path d="M348.9,550.9 L374.6,590.3" fill="none" stroke="#000" stroke-width="1.22" />
<path d="M318.3,635.3 L404.5,685.3 L399.5,690.6 L309.7,638.1 Z" fill="#fff" stroke="#000" stroke-width="1.49" />
<path d="M309.7,638.1 L399.5,690.6 L394,693.2 L306.3,644.6 Z" fill="#fff" stroke="#000" stroke-width="1.49" />
<path d="M298,636 Q298,634 300,633.5 L315.5,626 Q318,625 320,626.5 L322.5,628.5 Q324.5,631 323.5,634 Q322,636 319,635 L303,642 L303,651.5 Q303,653.5 300.5,653.5 Q298,653.5 298,651 Z" fill="#fff" stroke="#000" stroke-width="1.49" />
<path d="M300.5,636 L300.5,651" fill="none" stroke="#000" stroke-width="1.35" />
<path d="M317.7,627.5 L317.8,634.5" fill="none" stroke="#000" stroke-width="1.22" />
<path d="M303,638.5 L317.7,631.5" fill="none" stroke="#000" stroke-width="1.22" />
<path d="M304,641 L308,638.5 L308,642 L304.5,644 Z" fill="#111"/>
<path d="M394,688 L405,682 L406.5,678.5 L410.5,680.5 L411.5,700 L398,708.5 Q395,709.5 394.5,706 Z" fill="#fff" stroke="#000" stroke-width="1.49" />
<path d="M397.5,688 L397.5,706 M401,690 L401,702 L407,699 L407,689 Z" fill="none" stroke="#000" stroke-width="1.35" />
<path d="M403,691 L408,689 L408,697 L403,699 Z" fill="#111" stroke="#000" stroke-width="1.22" />
<path d="M364,683 L364,687 Q370.5,692 377,687 L377,683" fill="#fff" stroke="#000" stroke-width="1.35" />
<ellipse cx="370.5" cy="683" rx="6.5" ry="2.6" fill="#fff" stroke="#000" stroke-width="1.35"/>
<g transform="translate(288,648) rotate(-28)"><path d="M0,0 L4.5,0" stroke="#000" stroke-width="1.76"/><circle cx="0" cy="0" r="1.5" fill="#111"/></g>
<g transform="translate(288,663) rotate(-28)"><path d="M0,0 L4.5,0" stroke="#000" stroke-width="1.76"/><circle cx="0" cy="0" r="1.5" fill="#111"/></g>
<g transform="translate(376,698) rotate(-28)"><path d="M0,0 L4.5,0" stroke="#000" stroke-width="1.76"/><circle cx="0" cy="0" r="1.5" fill="#111"/></g>
<g transform="translate(376,713) rotate(-28)"><path d="M0,0 L4.5,0" stroke="#000" stroke-width="1.76"/><circle cx="0" cy="0" r="1.5" fill="#111"/></g>
<path d="M292.0,646.0 L338.0,621.0" stroke="#222" stroke-width="1.22" stroke-dasharray="4.5 2.2" fill="none"/>
<path d="M292.0,661.0 L348.0,630.0" stroke="#222" stroke-width="1.22" stroke-dasharray="4.5 2.2" fill="none"/>
<path d="M380.0,696.0 L425.0,671.0" stroke="#222" stroke-width="1.22" stroke-dasharray="4.5 2.2" fill="none"/>
<path d="M380.0,711.0 L437.0,678.5" stroke="#222" stroke-width="1.22" stroke-dasharray="4.5 2.2" fill="none"/>
<path d="M321.0,696.0 L339.0,661.0" fill="none" stroke="#000" stroke-width="1.22" />
<rect x="513.3" y="63.3" width="11.7" height="14.6" fill="#d2d2d2"/>
<rect x="511.1" y="61.1" width="11.7" height="14.6" fill="#434343" stroke="#363636" stroke-width="0.94"/>
<text x="517.2" y="73.1" font-size="13" font-weight="bold" fill="#f6f6f6" text-anchor="middle">1</text>
<rect x="425.2" y="221.2" width="11.7" height="14.6" fill="#d2d2d2"/>
<rect x="423" y="219" width="11.7" height="14.6" fill="#434343" stroke="#363636" stroke-width="0.94"/>
<text x="429.1" y="231.0" font-size="13" font-weight="bold" fill="#f6f6f6" text-anchor="middle">7</text>
<rect x="468.3" y="249.4" width="11.8" height="14.6" fill="#d2d2d2"/>
<rect x="466.1" y="247.2" width="11.8" height="14.6" fill="#434343" stroke="#363636" stroke-width="0.94"/>
<text x="472.2" y="259.1" font-size="13" font-weight="bold" fill="#f6f6f6" text-anchor="middle">6</text>
<rect x="474.3" y="272.6" width="18.1" height="14.4" fill="#d2d2d2"/>
<rect x="472.1" y="270.4" width="18.1" height="14.4" fill="#434343" stroke="#363636" stroke-width="0.94"/>
<text x="481.4" y="282.2" font-size="13" font-weight="bold" fill="#f6f6f6" text-anchor="middle">12</text>
<rect x="623.3" y="283.3" width="11.8" height="14.6" fill="#d2d2d2"/>
<rect x="621.1" y="281.1" width="11.8" height="14.6" fill="#434343" stroke="#363636" stroke-width="0.94"/>
<text x="627.2" y="293.1" font-size="13" font-weight="bold" fill="#f6f6f6" text-anchor="middle">5</text>
<rect x="338.5" y="315.3" width="11.7" height="14.6" fill="#d2d2d2"/>
<rect x="336.3" y="313.1" width="11.7" height="14.6" fill="#434343" stroke="#363636" stroke-width="0.94"/>
<text x="342.4" y="325.1" font-size="13" font-weight="bold" fill="#f6f6f6" text-anchor="middle">7</text>
<rect x="389.3" y="350.2" width="11.8" height="14.6" fill="#d2d2d2"/>
<rect x="387.1" y="348" width="11.8" height="14.6" fill="#434343" stroke="#363636" stroke-width="0.94"/>
<text x="393.2" y="359.9" font-size="13" font-weight="bold" fill="#f6f6f6" text-anchor="middle">6</text>
<rect x="390.1" y="419.1" width="11.9" height="14.7" fill="#d2d2d2"/>
<rect x="387.9" y="416.9" width="11.9" height="14.7" fill="#434343" stroke="#363636" stroke-width="0.94"/>
<text x="394.0" y="428.9" font-size="13" font-weight="bold" fill="#f6f6f6" text-anchor="middle">8</text>
<rect x="636.2" y="443.2" width="11.9" height="14.7" fill="#d2d2d2"/>
<rect x="634" y="441" width="11.9" height="14.7" fill="#434343" stroke="#363636" stroke-width="0.94"/>
<text x="640.2" y="453.0" font-size="13" font-weight="bold" fill="#f6f6f6" text-anchor="middle">8</text>
<rect x="221.2" y="465.7" width="11.7" height="14.6" fill="#d2d2d2"/>
<rect x="219" y="463.5" width="11.7" height="14.6" fill="#434343" stroke="#363636" stroke-width="0.94"/>
<text x="225.0" y="475.4" font-size="13" font-weight="bold" fill="#f6f6f6" text-anchor="middle">3</text>
<rect x="220.3" y="493.2" width="11.7" height="14.7" fill="#d2d2d2"/>
<rect x="218.1" y="491" width="11.7" height="14.7" fill="#434343" stroke="#363636" stroke-width="0.94"/>
<text x="224.1" y="503.0" font-size="13" font-weight="bold" fill="#f6f6f6" text-anchor="middle">4</text>
<rect x="116.3" y="595.3" width="11.7" height="14.6" fill="#d2d2d2"/>
<rect x="114.1" y="593.1" width="11.7" height="14.6" fill="#434343" stroke="#363636" stroke-width="0.94"/>
<text x="120.1" y="605.0" font-size="13" font-weight="bold" fill="#f6f6f6" text-anchor="middle">2</text>
<rect x="39.3" y="614.2" width="16.9" height="14.7" fill="#d2d2d2"/>
<rect x="37.1" y="612" width="16.9" height="14.7" fill="#434343" stroke="#363636" stroke-width="0.94"/>
<text x="45.8" y="624.0" font-size="13" font-weight="bold" fill="#f6f6f6" text-anchor="middle">11</text>
<rect x="335.2" y="537.1" width="18.3" height="15" fill="#d2d2d2"/>
<rect x="333" y="534.9" width="18.3" height="15" fill="#434343" stroke="#363636" stroke-width="0.94"/>
<text x="342.3" y="547.0" font-size="13" font-weight="bold" fill="#f6f6f6" text-anchor="middle">10</text>
<rect x="311.2" y="697.2" width="11.9" height="14.7" fill="#d2d2d2"/>
<rect x="309" y="695" width="11.9" height="14.7" fill="#434343" stroke="#363636" stroke-width="0.94"/>
<text x="315.1" y="707.0" font-size="13" font-weight="bold" fill="#f6f6f6" text-anchor="middle">9</text>
<circle cx="398.6" cy="252.7" r="14.6" fill="#fff" stroke="#5a5a5a" stroke-width="1.01"/>
<path d="M393.0,244.1 V259.9 M404.5,244.1 V259.9 M393.0,252.1 H404.5" fill="none" stroke="#1a1a1a" stroke-width="1.55" />
<circle cx="363.6" cy="288" r="14.6" fill="#fff" stroke="#5a5a5a" stroke-width="1.01"/>
<path d="M364.0,279.5 V295" fill="none" stroke="#1a1a1a" stroke-width="1.55" />
<circle cx="125.4" cy="537.9" r="14.4" fill="#fff" stroke="#5a5a5a" stroke-width="1.01"/>
<path d="M131.20000000000002,530.1999999999999 H121.5 V544.5 H131.20000000000002 M121.5,537.5 H130.0" fill="none" stroke="#1a1a1a" stroke-width="1.55" />
<circle cx="370" cy="781.3" r="14.7" fill="#fff" stroke="#5a5a5a" stroke-width="1.01"/>
<path d="M371.8,772.3 V783.8 Q371.8,787.6999999999999 368.1,787.6999999999999 Q364.3,787.6999999999999 364.3,784.0999999999999" fill="none" stroke="#1a1a1a" stroke-width="1.55" />
</svg>
</body></html>
